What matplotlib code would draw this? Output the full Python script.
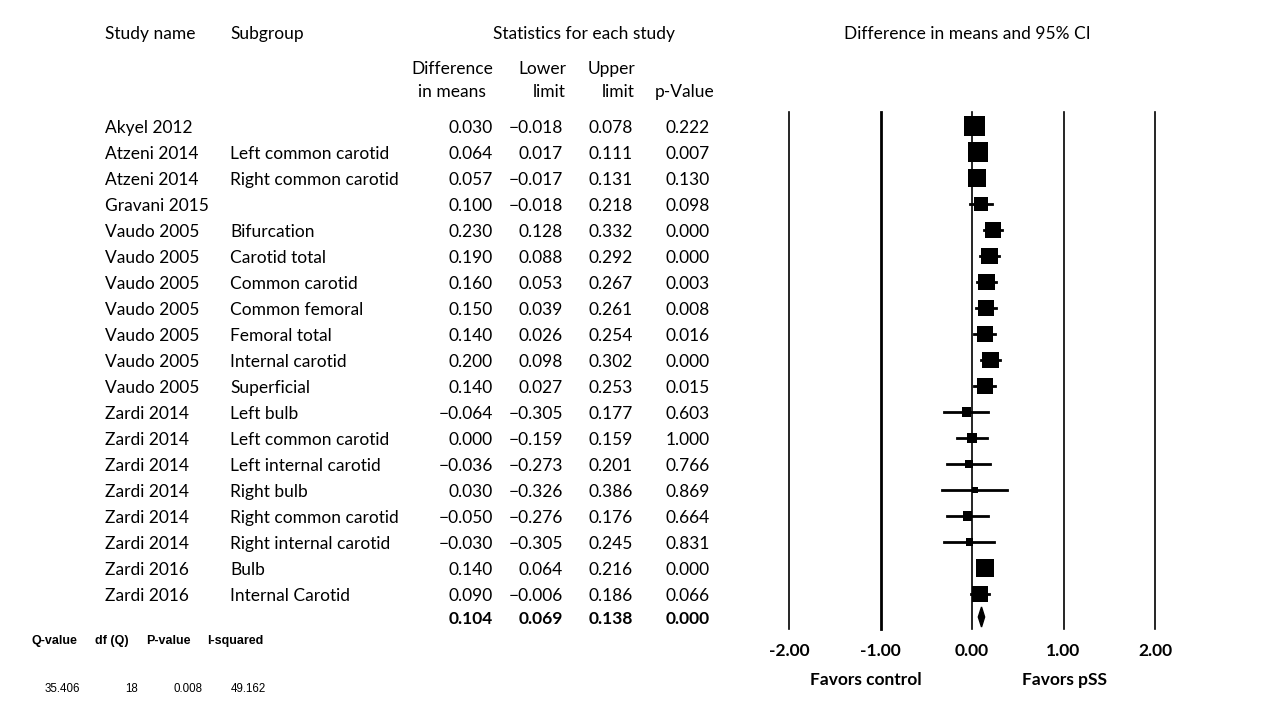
import numpy as np
import matplotlib.pyplot as plt
from matplotlib.patches import Polygon

# Data
studies = ["Akyel 2012", "Atzeni 2014", "Atzeni 2014", "Gravani 2015",
           "Vaudo 2005", "Vaudo 2005", "Vaudo 2005", "Vaudo 2005",
           "Vaudo 2005", "Vaudo 2005", "Vaudo 2005", "Zardi 2014",
           "Zardi 2014", "Zardi 2014", "Zardi 2014", "Zardi 2014",
           "Zardi 2014", "Zardi 2016", "Zardi 2016"]
subgroups = ["", "Left common carotid", "Right common carotid", "",
             "Bifurcation", "Carotid total", "Common carotid", "Common femoral",
             "Femoral total", "Internal carotid", "Superficial", "Left bulb",
             "Left common carotid", "Left internal carotid", "Right bulb",
             "Right common carotid", "Right internal carotid", "Bulb",
             "Internal Carotid"]
diff = [0.030, 0.064, 0.057, 0.100, 0.230, 0.190, 0.160, 0.150, 0.140, 0.200,
        0.140, -0.064, 0.000, -0.036, 0.030, -0.050, -0.030, 0.140, 0.090]
lower = [-0.018, 0.017, -0.017, -0.018, 0.128, 0.088, 0.053, 0.039, 0.026, 0.098,
         0.027, -0.305, -0.159, -0.273, -0.326, -0.276, -0.305, 0.064, -0.006]
upper = [0.078, 0.111, 0.131, 0.218, 0.332, 0.292, 0.267, 0.261, 0.254, 0.302,
         0.253, 0.177, 0.159, 0.201, 0.386, 0.176, 0.245, 0.216, 0.186]
pvals = [0.222, 0.007, 0.130, 0.098, 0.000, 0.000, 0.003, 0.008, 0.016, 0.000,
         0.015, 0.603, 1.000, 0.766, 0.869, 0.664, 0.831, 0.000, 0.066]
# relative weight -> box side (px)
weights = [20, 20, 18, 14, 15, 16, 16, 16, 16, 16, 16, 9, 10, 8, 6, 9, 7, 17, 16]
summary = (0.104, 0.069, 0.138, 0.000)
ticks = [-2, -1, 0, 1, 2]
het_labels = ["Q-value", "df (Q)", "P-value", "I-squared"]
het_values = ["35.406", "18", "0.008", "49.162"]

W, H = 1280, 720
plt.rcParams['font.family'] = ['Lato', 'DejaVu Sans']
fig = plt.figure(figsize=(W / 100, H / 100), dpi=100)
fig.patch.set_facecolor('white')
FS = 12.5
DY = 2


def txt(x, y, s, ha='left', bold=False, size=FS, family=None, va='center'):
    kw = {}
    if family:
        kw['family'] = family
    fig.text(x / W, 1 - (y + DY) / H, s, ha=ha, va=va, fontsize=size,
             fontweight='bold' if bold else 'normal', **kw)


# headers
txt(105, 32, "Study name")
txt(230, 32, "Subgroup")
txt(584, 32, "Statistics for each study", ha='center')
txt(967, 32, "Difference in means and 95% CI", ha='center')
txt(452, 67, "Difference", ha='center')
txt(452, 90, "in means", ha='center')
txt(566, 67, "Lower", ha='right')
txt(566, 90, "limit", ha='right')
txt(635, 67, "Upper", ha='right')
txt(635, 90, "limit", ha='right')
txt(714, 90, "p-Value", ha='right')

row_y = [126 + 26 * i for i in range(len(studies))]
for i, y in enumerate(row_y):
    txt(105, y, studies[i])
    txt(230, y, subgroups[i])
    txt(493, y, f"{diff[i]:.3f}".replace('-', '\u2212'), ha='right')
    txt(563, y, f"{lower[i]:.3f}".replace('-', '\u2212'), ha='right')
    txt(633, y, f"{upper[i]:.3f}".replace('-', '\u2212'), ha='right')
    txt(710, y, f"{pvals[i]:.3f}", ha='right')

sy = 617
for x, v in zip([493, 563, 633, 710], summary):
    txt(x, sy, f"{v:.3f}", ha='right', bold=True)

# heterogeneity stats
for x, s in zip([54, 112, 168, 235], het_labels):
    txt(x, 639, s, ha='center', bold=True, size=9, family=['Liberation Sans', 'DejaVu Sans'])
for x, s in zip([62, 132, 188, 248], het_values):
    txt(x, 687, s, ha='center', size=8.3, family=['Liberation Sans', 'DejaVu Sans'])

# forest plot axes (pixel-aligned)
px_per = 91.5
x0 = 972.0
left_px, right_px = 760, 1185
ax = fig.add_axes([left_px / W, 0, (right_px - left_px) / W, 1])
ax.set_xlim((left_px - x0) / px_per, (right_px - x0) / px_per)
ax.set_ylim(H, 0)
ax.axis('off')

for t in ticks:
    ax.plot([t, t], [112, 629], color='black', lw=2.0 if t == -1 else 1.2, zorder=1)
    txt(x0 + t * px_per, 649, f"{t:.2f}", ha='center', bold=True, size=12.5)

txt(866, 678, "Favors control", ha='center', bold=True, size=12.5)
txt(1065, 678, "Favors pSS", ha='center', bold=True, size=12.5)

for i, y in enumerate(row_y):
    ax.plot([lower[i], upper[i]], [y, y], color='black', lw=2.0, zorder=2)
    ax.scatter([diff[i]], [y], marker='s', s=(weights[i] * 0.74) ** 2,
               color='black', edgecolors='none', zorder=3)

est, lo, hi, _ = summary
ax.add_patch(Polygon([[lo, sy], [est, sy - 10], [hi, sy], [est, sy + 10]],
                     closed=True, color='black', zorder=3))

fig.savefig("out.png", dpi=100, facecolor='white')
